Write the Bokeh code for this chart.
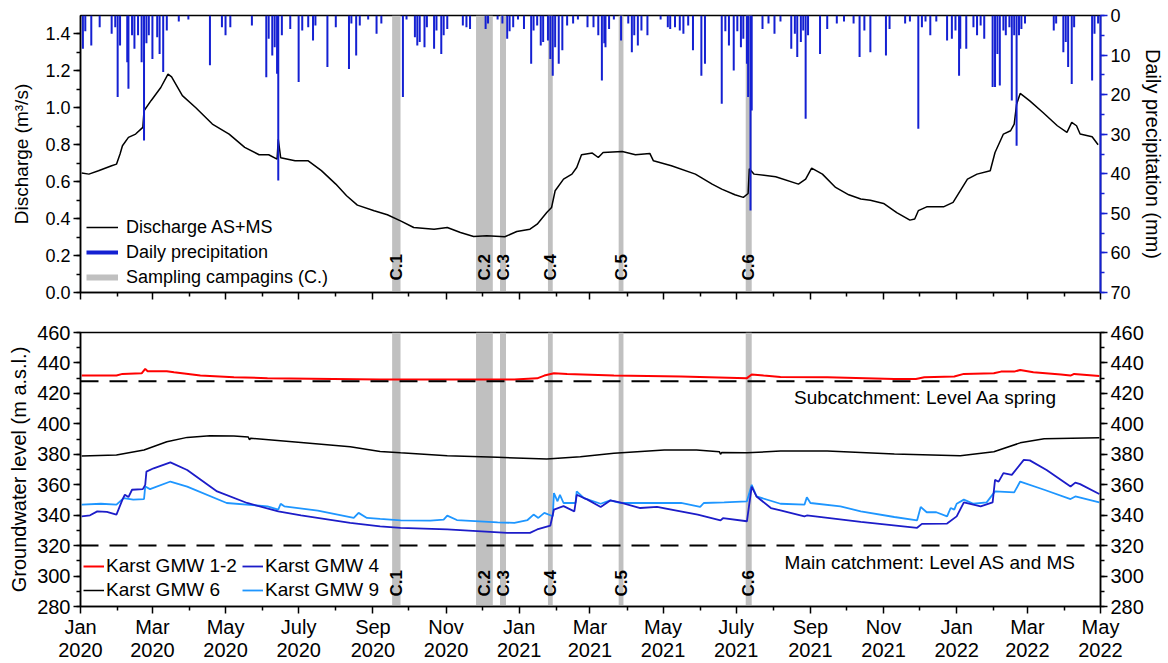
import math
import pandas as pd
from bokeh.plotting import figure
from bokeh.layouts import column
from bokeh.models import (Range1d, LinearAxis, SingleIntervalTicker, FixedTicker,
                          CustomJSTickFormatter, NumeralTickFormatter, Legend, LegendItem,
                          ColumnDataSource, Span)
from bokeh.embed import file_html
from bokeh.resources import INLINE
from bokeh.core.properties import value

FONT = "Liberation Sans"

# ---------------- data ----------------
q_dates = [
    "2020-01-02", "2020-01-08", "2020-01-16", "2020-01-27", "2020-01-31",
    "2020-02-03", "2020-02-05", "2020-02-10", "2020-02-16", "2020-02-22", "2020-02-23", "2020-02-29",
    "2020-03-08", "2020-03-14", "2020-03-17", "2020-03-26",
    "2020-04-06", "2020-04-20",
    "2020-05-04", "2020-05-17", "2020-05-29",
    "2020-06-06", "2020-06-13", "2020-06-14", "2020-06-16", "2020-06-28",
    "2020-07-09", "2020-07-20",
    "2020-08-01", "2020-08-10", "2020-08-19",
    "2020-09-02", "2020-09-13", "2020-09-24",
    "2020-10-05", "2020-10-22",
    "2020-11-02", "2020-11-13", "2020-11-24",
    "2020-12-05", "2020-12-20", "2020-12-30",
    "2021-01-10", "2021-01-16", "2021-01-24", "2021-01-28", "2021-01-31",
    "2021-02-07", "2021-02-14", "2021-02-18", "2021-02-22",
    "2021-03-03", "2021-03-08", "2021-03-12", "2021-03-28",
    "2021-04-08", "2021-04-20", "2021-04-23",
    "2021-05-08", "2021-05-28",
    "2021-06-11", "2021-06-19", "2021-06-30",
    "2021-07-07", "2021-07-11", "2021-07-12", "2021-07-16",
    "2021-08-03", "2021-08-22", "2021-08-28",
    "2021-09-02", "2021-09-11", "2021-09-22",
    "2021-10-03", "2021-10-13", "2021-10-21",
    "2021-11-01", "2021-11-12", "2021-11-23", "2021-11-27", "2021-11-30",
    "2021-12-07", "2021-12-21", "2021-12-29",
    "2022-01-10", "2022-01-18", "2022-01-29",
    "2022-02-02", "2022-02-09", "2022-02-15", "2022-02-18", "2022-02-20", "2022-02-23",
    "2022-03-03", "2022-03-14", "2022-03-26",
    "2022-04-03", "2022-04-07", "2022-04-11", "2022-04-14", "2022-04-24", "2022-04-29",
]
discharge = [
    0.647, 0.641, 0.659, 0.686, 0.695,
    0.75, 0.795, 0.84, 0.858, 0.894, 0.984, 1.04,
    1.11, 1.183, 1.168, 1.066,
    1.002, 0.912,
    0.858, 0.786, 0.746,
    0.746, 0.722, 0.83, 0.73, 0.713,
    0.713, 0.66,
    0.587, 0.524, 0.473,
    0.443, 0.421, 0.388,
    0.352, 0.343,
    0.352, 0.325, 0.303,
    0.307, 0.302, 0.33,
    0.343, 0.37, 0.433, 0.46, 0.551,
    0.614, 0.641, 0.677, 0.746,
    0.755, 0.731, 0.758, 0.764,
    0.746, 0.753, 0.713,
    0.686, 0.641,
    0.587, 0.56, 0.529,
    0.515, 0.536, 0.67, 0.641,
    0.627, 0.587, 0.614,
    0.674, 0.641, 0.569,
    0.529, 0.506, 0.5,
    0.482, 0.433, 0.392, 0.398, 0.443,
    0.464, 0.464, 0.488,
    0.614, 0.641, 0.659,
    0.758, 0.858, 0.876, 0.912, 1.02, 1.078,
    1.038, 0.975, 0.903,
    0.867, 0.921, 0.903, 0.858, 0.843, 0.8,
]

precip_dates = [
    "2020-01-03", "2020-01-05", "2020-01-10", "2020-01-17", "2020-01-27", "2020-01-30",
    "2020-02-01", "2020-02-03", "2020-02-09", "2020-02-10", "2020-02-13", "2020-02-15", "2020-02-18", "2020-02-21", "2020-02-23", "2020-02-25", "2020-02-27",
    "2020-03-01", "2020-03-05", "2020-03-07", "2020-03-10", "2020-03-13", "2020-03-23", "2020-03-31",
    "2020-04-18", "2020-04-28",
    "2020-05-01", "2020-05-05", "2020-05-23",
    "2020-06-04", "2020-06-06", "2020-06-09", "2020-06-11", "2020-06-13", "2020-06-14", "2020-06-17", "2020-06-24",
    "2020-07-01", "2020-07-04", "2020-07-09", "2020-07-13", "2020-07-15", "2020-07-25",
    "2020-08-01", "2020-08-12", "2020-08-14", "2020-08-18", "2020-08-21", "2020-08-28",
    "2020-09-04", "2020-09-08", "2020-09-26", "2020-09-29",
    "2020-10-06", "2020-10-08", "2020-10-10", "2020-10-14", "2020-10-16", "2020-10-22", "2020-10-24", "2020-10-28", "2020-10-30",
    "2020-11-02", "2020-11-15", "2020-11-18", "2020-11-21",
    "2020-12-04", "2020-12-06", "2020-12-14", "2020-12-18", "2020-12-22", "2020-12-24", "2020-12-27", "2020-12-31",
    "2021-01-05", "2021-01-11", "2021-01-13", "2021-01-16", "2021-01-19", "2021-01-21", "2021-01-25", "2021-01-27", "2021-01-29", "2021-01-31",
    "2021-02-03", "2021-02-06", "2021-02-10", "2021-02-15", "2021-02-19", "2021-02-27",
    "2021-03-04", "2021-03-08", "2021-03-11", "2021-03-13", "2021-03-14", "2021-03-17", "2021-03-21", "2021-03-27",
    "2021-04-02", "2021-04-05", "2021-04-07", "2021-04-10", "2021-04-13", "2021-04-18", "2021-04-29",
    "2021-05-05", "2021-05-07", "2021-05-11", "2021-05-15", "2021-05-18", "2021-05-22", "2021-05-26",
    "2021-06-02", "2021-06-05", "2021-06-19", "2021-06-22", "2021-06-25", "2021-06-29",
    "2021-07-02", "2021-07-05", "2021-07-07", "2021-07-10", "2021-07-11", "2021-07-13", "2021-07-14", "2021-07-23", "2021-07-28",
    "2021-08-02", "2021-08-07", "2021-08-16", "2021-08-19", "2021-08-21", "2021-08-24", "2021-08-26", "2021-08-28", "2021-08-30",
    "2021-09-09", "2021-09-15", "2021-09-23", "2021-09-29",
    "2021-10-07", "2021-10-12", "2021-10-16", "2021-10-21",
    "2021-11-03", "2021-11-06", "2021-11-19", "2021-11-23", "2021-11-30",
    "2021-12-03", "2021-12-06", "2021-12-10", "2021-12-15", "2021-12-24", "2021-12-28", "2021-12-31",
    "2022-01-03", "2022-01-04", "2022-01-09", "2022-01-15", "2022-01-18", "2022-01-21", "2022-01-24", "2022-01-31",
    "2022-02-02", "2022-02-04", "2022-02-06", "2022-02-09", "2022-02-11", "2022-02-14", "2022-02-16", "2022-02-18", "2022-02-20", "2022-02-22", "2022-02-24", "2022-02-27",
    "2022-03-23", "2022-03-25", "2022-03-31",
    "2022-04-02", "2022-04-04", "2022-04-07", "2022-04-09", "2022-04-24", "2022-04-26", "2022-04-29",
]
precip_mm = [
    8.4, 4, 7.6, 3, 4.6, 3,
    20.6, 7.6, 11.8, 18.5, 5, 8.4, 5, 11.8, 31.6, 7, 5,
    11, 5.5, 9.7, 14.3, 3.8, 1.5, 1,
    12.6, 3,
    5, 3, 2.5,
    15.6, 5.9, 10.1, 8, 14.7, 41.7, 5, 3.4,
    16.8, 3.8, 3, 6.3, 2.5, 13,
    3, 13.5, 2, 10.1, 2.5, 1,
    4.6, 2, 20.6, 1,
    5.5, 7.6, 6.7, 8, 3, 8.4, 3.8, 9.7, 5,
    3.4, 2.5, 3, 3.4,
    3.4, 2, 1, 2, 5.9, 4, 3, 1,
    3.4, 12.2, 3.8, 2.5, 7.6, 6.7, 6.3, 11, 15.2, 8,
    12.2, 8.8, 2.5, 2, 1, 3,
    3, 5, 16.4, 7, 8, 3.4, 1, 6.3,
    2, 9.3, 5, 7.6, 3.8, 5, 1,
    3, 3.4, 3, 3.8, 4.6, 2.5, 8.8,
    15.2, 12.2, 22.3, 4, 7.6, 13.9,
    4, 8, 5.9, 12.2, 20.6, 49.3, 24, 3.4, 2,
    4.6, 1.5, 8.4, 4.6, 10.5, 6.7, 3.8, 26.1, 5,
    9.7, 3.4, 2, 1.5,
    2, 10.5, 3.8, 9.3,
    10.1, 3.4, 2, 1.5, 28.6,
    3, 1.5, 5, 1.5, 6.3, 5.9, 3.8,
    15.2, 8.4, 8.4, 3, 5, 2.5, 5.9, 18.1,
    18.1, 9.7, 17.7, 3.8, 5, 3, 21.5, 5, 32.9, 5, 3.4, 2,
    3.8, 2, 9.3,
    6.7, 13, 17.3, 3, 16.4, 4.6, 2,
]

campaign_labels = ["C.1", "C.2", "C.3", "C.4", "C.5", "C.6"]
campaign_start = ["2020-09-17", "2020-11-26", "2020-12-16", "2021-01-25", "2021-03-25", "2021-07-09"]
campaign_end = ["2020-09-24", "2020-12-10", "2020-12-21", "2021-01-29", "2021-03-29", "2021-07-14"]

gmw12_dates = [
    "2020-01-02", "2020-01-31", "2020-02-05", "2020-02-21", "2020-02-24", "2020-02-26", "2020-03-13",
    "2020-03-19", "2020-04-10", "2020-05-08", "2020-06-05", "2020-07-30", "2020-09-07", "2020-12-28",
    "2021-01-16", "2021-01-22", "2021-01-30", "2021-02-10", "2021-03-21", "2021-05-16", "2021-07-10",
    "2021-07-14", "2021-07-24", "2021-08-07", "2021-09-15", "2021-11-10", "2021-11-28", "2021-12-05",
    "2021-12-30", "2022-01-07", "2022-02-01", "2022-02-07", "2022-02-18", "2022-02-23", "2022-03-06",
    "2022-03-29", "2022-04-06", "2022-04-09", "2022-04-30",
]
gmw12 = [
    431.7, 431.7, 432.8, 433.2, 436.1, 434.6, 434.6,
    433.9, 431.7, 430.6, 430.0, 429.5, 429.2, 429.2,
    429.9, 431.7, 433.2, 432.8, 431.7, 431.1, 430.0,
    432.4, 431.7, 430.8, 430.6, 429.5, 429.5, 430.6,
    431.1, 432.8, 433.2, 434.3, 434.3, 435.4, 433.9,
    432.4, 431.7, 432.8, 431.5,
]

gmw6_dates = [
    "2020-01-02", "2020-01-31", "2020-02-23", "2020-03-13", "2020-03-30", "2020-04-18", "2020-05-08",
    "2020-05-20", "2020-05-21", "2020-05-22", "2020-07-03", "2020-08-13", "2020-09-07", "2020-09-24",
    "2020-11-02", "2020-12-14", "2021-01-24", "2021-02-21", "2021-03-21", "2021-05-02", "2021-05-29",
    "2021-06-17", "2021-06-18", "2021-06-19", "2021-07-10", "2021-08-07", "2021-09-15", "2021-11-10",
    "2022-01-04", "2022-02-01", "2022-02-23", "2022-03-15", "2022-04-30",
]
gmw6 = [
    378.9, 379.5, 382.8, 388.2, 391.1, 392.1, 392.0,
    391.3, 389.5, 390.5, 387.8, 384.9, 381.9, 381.0,
    379.1, 378.0, 376.9, 378.4, 380.6, 382.8, 382.8,
    381.7, 380.0, 381.2, 381.0, 382.1, 382.1, 380.2,
    379.1, 381.7, 387.5, 390.2, 390.8,
]

gmw4_dates = [
    "2020-01-02", "2020-01-09", "2020-01-15", "2020-01-23", "2020-01-31", "2020-02-05", "2020-02-07",
    "2020-02-10", "2020-02-13", "2020-02-22", "2020-02-24", "2020-02-25", "2020-03-02", "2020-03-16",
    "2020-03-30", "2020-04-24", "2020-05-19", "2020-06-14", "2020-07-03", "2020-08-13", "2020-09-07",
    "2020-09-24", "2020-11-02", "2020-12-22", "2021-01-10", "2021-01-16", "2021-01-27", "2021-01-30",
    "2021-02-07", "2021-02-16", "2021-02-18", "2021-02-27", "2021-03-10", "2021-03-18", "2021-03-26",
    "2021-04-12", "2021-04-26", "2021-05-30", "2021-06-18", "2021-06-20", "2021-07-10", "2021-07-14",
    "2021-07-18", "2021-07-30", "2021-08-07", "2021-08-27", "2021-08-29", "2021-10-13", "2021-11-29",
    "2021-12-03", "2021-12-24", "2022-01-01", "2022-01-07", "2022-01-21", "2022-01-31", "2022-02-02",
    "2022-02-05", "2022-02-09", "2022-02-16", "2022-02-26", "2022-03-03", "2022-03-17", "2022-04-06",
    "2022-04-10", "2022-04-14", "2022-04-30",
]
gmw4 = [
    339.2, 339.9, 342.5, 342.1, 340.4, 350.2, 353.4,
    351.9, 356.7, 357.1, 359.9, 368.6, 370.8, 374.7,
    369.7, 355.6, 348.0, 342.5, 339.8, 334.9, 332.7,
    331.7, 330.6, 328.4, 328.4, 330.6, 333.2, 343.7,
    345.9, 342.5, 353.4, 350.2, 345.4, 349.7, 348.4,
    344.7, 345.4, 340.4, 336.6, 338.0, 336.0, 358.8,
    352.3, 344.7, 343.2, 339.2, 339.8, 335.6, 331.7,
    334.3, 334.5, 339.2, 348.4, 345.8, 348.4, 363.2,
    362.0, 367.6, 366.5, 376.3, 376.0, 369.7, 358.8,
    361.4, 360.4, 353.9,
]

gmw9_dates = [
    "2020-01-02", "2020-01-18", "2020-01-31", "2020-02-06", "2020-02-14", "2020-02-23", "2020-02-24",
    "2020-02-28", "2020-03-16", "2020-03-30", "2020-05-02", "2020-06-05", "2020-06-14", "2020-06-16",
    "2020-06-19", "2020-07-17", "2020-08-16", "2020-08-20", "2020-08-27", "2020-09-07", "2020-09-24",
    "2020-10-19", "2020-10-30", "2020-11-02", "2020-11-10", "2020-12-14", "2020-12-28", "2021-01-08",
    "2021-01-13", "2021-01-17", "2021-01-22", "2021-01-29", "2021-01-30", "2021-02-02", "2021-02-04",
    "2021-02-07", "2021-02-17", "2021-02-18", "2021-02-24", "2021-03-10", "2021-03-18", "2021-03-26",
    "2021-05-16", "2021-06-01", "2021-06-04", "2021-06-21", "2021-07-10", "2021-07-14", "2021-07-18",
    "2021-08-07", "2021-08-27", "2021-08-29", "2021-09-01", "2021-09-26", "2021-10-13", "2021-11-10",
    "2021-11-29", "2021-12-02", "2021-12-07", "2021-12-15", "2021-12-24", "2021-12-27", "2021-12-30",
    "2022-01-01", "2022-01-07", "2022-01-15", "2022-01-26", "2022-02-02", "2022-02-18", "2022-02-23",
    "2022-03-15", "2022-04-06", "2022-04-10", "2022-04-30",
]
gmw9 = [
    346.9, 347.5, 346.9, 351.2, 350.2, 350.6, 358.8,
    357.1, 362.1, 358.8, 348.0, 345.8, 343.6, 347.5,
    345.8, 343.0, 338.2, 341.5, 338.2, 337.5, 336.6,
    336.4, 337.1, 339.7, 336.8, 335.3, 334.9, 336.8,
    340.4, 338.2, 341.5, 339.3, 354.5, 349.1, 353.4,
    348.0, 348.0, 355.6, 351.2, 347.5, 349.7, 348.0,
    348.0, 345.4, 348.0, 348.4, 349.1, 359.9, 352.3,
    347.5, 346.9, 351.7, 348.0, 345.8, 342.5, 338.8,
    336.6, 345.4, 341.9, 341.9, 339.2, 344.7, 343.6,
    347.5, 350.2, 347.5, 348.4, 355.6, 355.0, 362.1,
    356.7, 350.6, 352.3, 348.4,
]

level_aa_spring = 428
level_as_ms = 320
level_texts = ["Subcatchment: Level Aa spring", "Main catchment: Level AS and MS"]
level_text_x = ["2021-12-06", "2021-12-10"]

month_names = ["Jan", "Feb", "Mar", "Apr", "May", "June", "July", "Aug", "Sep", "Oct", "Nov", "Dec"]
x_start, x_end = "2020-01-01", "2022-05-01"

# ---------------- styles ----------------
BLUE = "#1420d2"
GRAY = "#c0c0c0"
RED = "#ff0000"
DBLUE = "#1c1cc8"
LBLUE = "#1e96ff"


def dt(lst):
    return pd.to_datetime(lst)


def style_axis(ax, size, color="black"):
    ax.axis_line_color = color
    ax.axis_line_width = 1.5
    ax.major_tick_line_color = color
    ax.major_tick_line_width = 1.5
    ax.minor_tick_line_color = color
    ax.minor_tick_line_width = 1.5
    ax.major_tick_in = 0
    ax.major_tick_out = 7
    ax.minor_tick_in = 0
    ax.minor_tick_out = 4
    ax.major_label_text_font = FONT
    ax.major_label_text_font_size = size
    ax.major_label_text_color = "black"
    ax.major_label_standoff = 3
    ax.axis_label_text_font = FONT
    ax.axis_label_text_font_size = "20px"
    ax.axis_label_text_font_style = "normal"
    ax.axis_label_text_color = "black"


x_range = Range1d(pd.Timestamp(x_start), pd.Timestamp(x_end))
major_ticks = [pd.Timestamp(d).value / 1e6 for d in pd.date_range(x_start, x_end, freq="2MS")]
minor_ticks = [pd.Timestamp(d).value / 1e6 for d in pd.date_range("2020-02-01", x_end, freq="2MS")]

camp = ColumnDataSource(dict(
    left=dt(campaign_start), right=dt(campaign_end),
    mid=dt(campaign_start) + (dt(campaign_end) - dt(campaign_start)) / 2,
    label=campaign_labels,
))

# ---------------- top panel ----------------
p1 = figure(width=1168, height=310, x_axis_type="datetime", x_range=x_range,
            y_range=Range1d(0, 1.5), output_backend="svg", toolbar_location=None,
            min_border_left=80, min_border_right=68, min_border_top=15, min_border_bottom=18)
p1.extra_y_ranges = {"precip": Range1d(70, 0)}
p1.grid.visible = False
p1.outline_line_color = "black"
p1.outline_line_width = 1.5

p1.quad(left="left", right="right", bottom=p1.y_range.start, top=p1.y_range.end,
        source=camp, fill_color=GRAY, line_color=None)
q_line = p1.line(x=dt(q_dates), y=discharge, line_color="black", line_width=1.5)
p1.segment(x0=dt(precip_dates), x1=dt(precip_dates), y0=0, y1=precip_mm,
           y_range_name="precip", line_color=BLUE, line_width=2)
p1.text(x="mid", y=0.065, text="label", source=camp, angle=math.pi / 2,
        text_align="left", text_baseline="middle", text_font=value(FONT),
        text_font_style="bold", text_font_size="17px", text_color="black")

yl = p1.yaxis[0]
style_axis(yl, "18px")
yl.ticker = SingleIntervalTicker(interval=0.2, num_minor_ticks=2)
yl.formatter = NumeralTickFormatter(format="0.0")
yl.axis_label = "Discharge (m³/s)"
yl.axis_label_standoff = 10
yl.axis_label_text_font_size = "19px"

yr = LinearAxis(y_range_name="precip", axis_label="Daily precipitation (mm)",
                ticker=SingleIntervalTicker(interval=10, num_minor_ticks=2))
style_axis(yr, "18px", color=BLUE)
yr.axis_line_width = 2
yr.axis_label_standoff = 8
p1.add_layout(yr, "right")

xa1 = p1.xaxis[0]
style_axis(xa1, "0px")
xa1.ticker = FixedTicker(ticks=major_ticks, minor_ticks=minor_ticks)
xa1.major_label_standoff = 0
xa1.formatter = CustomJSTickFormatter(code="return '';")

# legend-only glyphs (a single missing point, nothing visible is drawn)
legend_src = ColumnDataSource(dict(x=[pd.Timestamp(x_start)], y=[float("nan")]))
dummy_p = p1.line(x="x", y="y", source=legend_src, line_color=BLUE, line_width=4)
dummy_c = p1.line(x="x", y="y", source=legend_src, line_color=GRAY, line_width=6)
leg1 = Legend(items=[LegendItem(label="Discharge AS+MS", renderers=[q_line]),
                     LegendItem(label="Daily precipitation", renderers=[dummy_p]),
                     LegendItem(label="Sampling campagins (C.)", renderers=[dummy_c])],
              location=(6, 4), glyph_width=32, glyph_height=22, label_height=22,
              spacing=3, padding=5, margin=0, label_standoff=8,
              label_text_font=FONT, label_text_font_size="18px", label_text_color="black",
              border_line_color=None, background_fill_alpha=0)
p1.add_layout(leg1)

# ---------------- bottom panel ----------------
p2 = figure(width=1168, height=353, x_axis_type="datetime", x_range=x_range,
            y_range=Range1d(280, 460), output_backend="svg", toolbar_location=None,
            min_border_left=80, min_border_right=68, min_border_top=22, min_border_bottom=55)
p2.grid.visible = False
p2.outline_line_color = "black"
p2.outline_line_width = 1.5

p2.quad(left="left", right="right", bottom=p2.y_range.start, top=p2.y_range.end,
        source=camp, fill_color=GRAY, line_color=None)
for lvl in (level_aa_spring, level_as_ms):
    p2.add_layout(Span(location=lvl, dimension="width", line_color="black",
                       line_width=2, line_dash="18 11"))
p2.text(x=dt(level_text_x), y=[level_aa_spring - 10.6, level_as_ms - 11.2], text=level_texts,
        text_align="center", text_baseline="middle", text_font=value(FONT),
        text_font_size="19px", text_color="black")

r12 = p2.line(x=dt(gmw12_dates), y=gmw12, line_color=RED, line_width=2)
r6 = p2.line(x=dt(gmw6_dates), y=gmw6, line_color="black", line_width=1.5)
r9 = p2.line(x=dt(gmw9_dates), y=gmw9, line_color=LBLUE, line_width=1.8)
r4 = p2.line(x=dt(gmw4_dates), y=gmw4, line_color=DBLUE, line_width=1.8)

p2.text(x="mid", y=286.5, text="label", source=camp, angle=math.pi / 2,
        text_align="left", text_baseline="middle", text_font=value(FONT),
        text_font_style="bold", text_font_size="17px", text_color="black")

gl = p2.yaxis[0]
style_axis(gl, "20px")
gl.ticker = SingleIntervalTicker(interval=20, num_minor_ticks=2)
gl.axis_label = "Groundwater level (m a.s.l.)"
gl.axis_label_standoff = 4

gr = LinearAxis(ticker=SingleIntervalTicker(interval=20, num_minor_ticks=2))
style_axis(gr, "20px")
p2.add_layout(gr, "right")

xa2 = p2.xaxis[0]
style_axis(xa2, "20px")
xa2.ticker = FixedTicker(ticks=major_ticks, minor_ticks=minor_ticks)
xa2.major_label_standoff = 2
xa2.major_label_text_line_height = 1.05
xa2.formatter = CustomJSTickFormatter(args=dict(names=month_names), code="""
const d = new Date(tick);
return names[d.getUTCMonth()] + "\\n" + d.getUTCFullYear();
""")

leg_common = dict(glyph_width=21, glyph_height=20, label_height=20, spacing=2,
                  padding=3, margin=0, label_standoff=2, label_text_font=FONT,
                  label_text_font_size="19px", label_text_color="black",
                  border_line_color=None, background_fill_alpha=0)
legA = Legend(items=[LegendItem(label="Karst GMW 1-2", renderers=[r12]),
                     LegendItem(label="Karst GMW 6", renderers=[r6])],
              location=(3, 5), **leg_common)
legB = Legend(items=[LegendItem(label="Karst GMW 4", renderers=[r4]),
                     LegendItem(label="Karst GMW 9", renderers=[r9])],
              location=(162, 5), **leg_common)
p2.add_layout(legA)
p2.add_layout(legB)

layout = column(p1, p2, spacing=0)
open("out.html", "w").write(file_html(layout, INLINE))
